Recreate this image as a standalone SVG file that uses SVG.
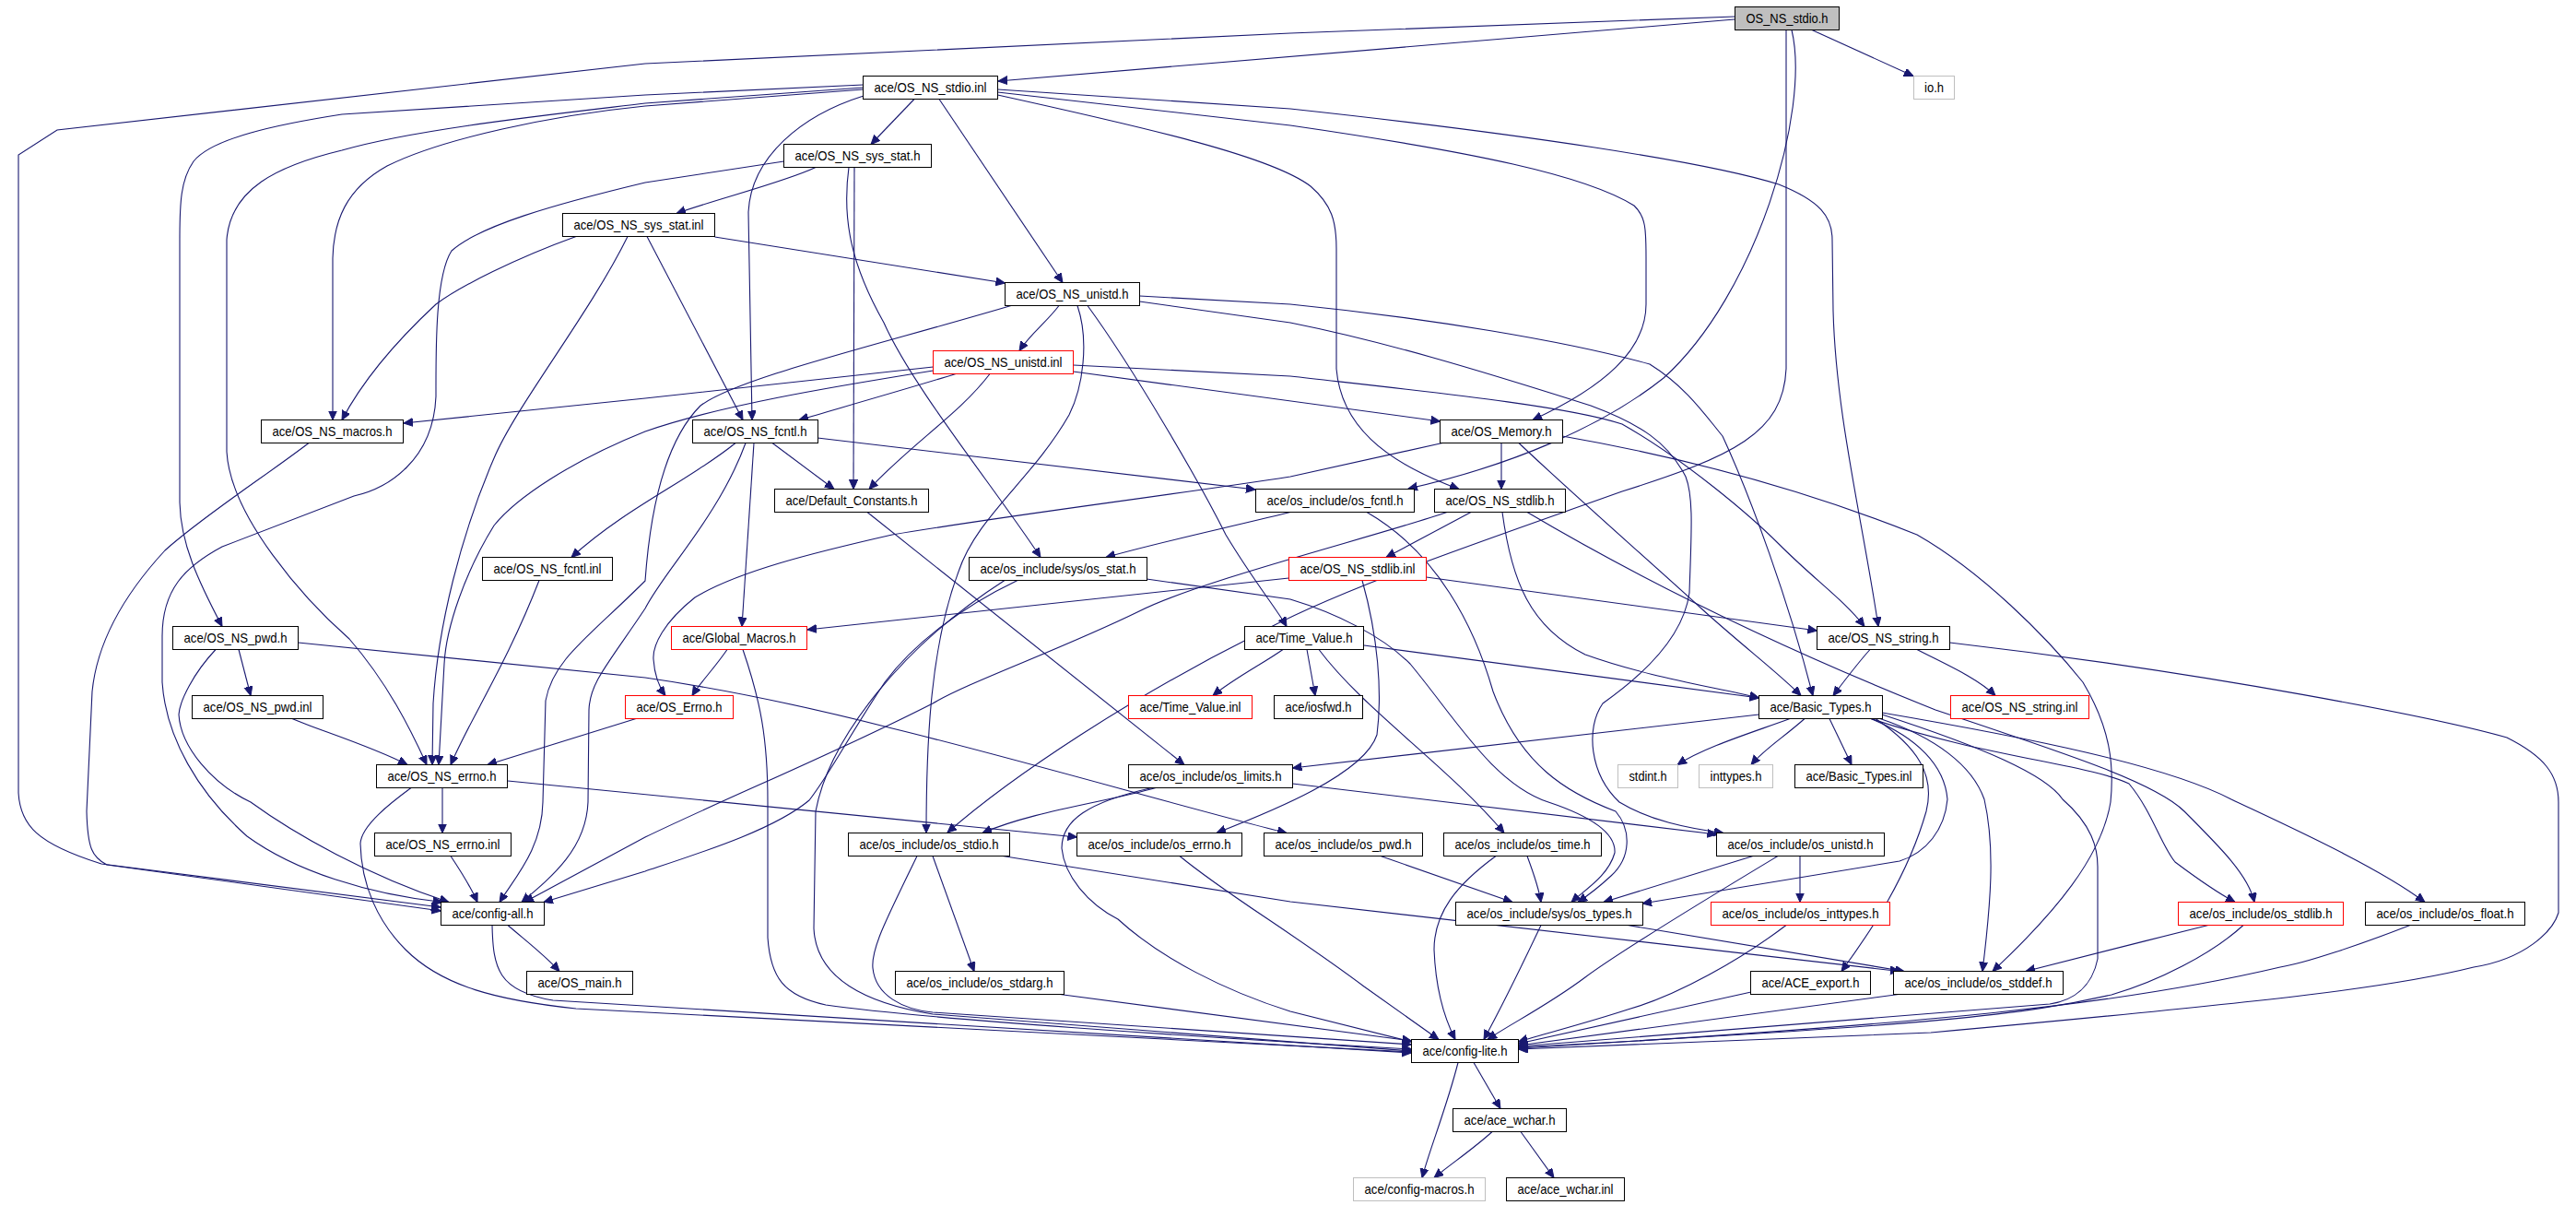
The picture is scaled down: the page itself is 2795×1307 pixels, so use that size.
<svg xmlns="http://www.w3.org/2000/svg" width="2795" height="1307" viewBox="0 0 2795 1307">
<defs>
<marker id="a" markerUnits="userSpaceOnUse" markerWidth="11" markerHeight="10" refX="10" refY="4.5" orient="auto"><path d="M0,0 L10,4.5 L0,9 z" fill="#191970" stroke="#191970" stroke-width="1"/></marker>
</defs>
<style>
.e{fill:none;stroke:#191970;stroke-width:1.1;marker-end:url(#a)}
rect{fill:#fff;stroke:#000;stroke-width:1}
.r rect{stroke:#ff0000}
.g rect{stroke:#bfbfbf}
.root rect{fill:#bfbfbf}
text{font-family:"Liberation Sans",Arial,sans-serif;font-size:14.5px;fill:#000;text-anchor:middle}
</style>
<rect x="0" y="0" width="2795" height="1307" style="fill:#fff;stroke:none"/>
<g id="edges">
<path class="e" d="M1882,21 L1083,88"/>
<path class="e" d="M1966,32.5 L2076,82.5"/>
<path class="e" d="M1882,18 L1400,36 L700,69 L62,141 L20,168 L20,860 C22,895 40,915 110,937 L478,984"/>
<path class="e" d="M1944,32.5 C1965,120 1905,320 1805,410 C1740,462 1640,505 1528,530"/>
<path class="e" d="M1938,32.5 L1938,400 C1935,470 1880,495 1760,533 C1600,590 1450,640 1360,690 C1230,755 1100,840 1028,903"/>
<path class="e" d="M992,107.5 L945,156.5"/>
<path class="e" d="M1019,107.5 L1153,306.5"/>
<path class="e" d="M937,104 C870,125 815,170 812,230 L816,455.5"/>
<path class="e" d="M936.5,97 L700,115 C600,125 480,150 420,180 C375,205 362,240 361,280 L361,455.5"/>
<path class="e" d="M936.5,92 L700,103 L371,124 C300,135 230,150 210,175 C196,195 195,220 195,260 L195,545 C196,590 215,630 241,679.5"/>
<path class="e" d="M936.5,95 L700,112 C600,124 450,140 371,163 C300,180 250,205 246,260 L246,490 C250,560 330,650 379,693 C420,740 445,790 463,829.5"/>
<path class="e" d="M1082.5,100 L1400,136 C1600,165 1720,190 1773,223 C1786,235 1786,250 1786,280 L1786,330 C1786,380 1740,420 1663,455.5"/>
<path class="e" d="M1082.5,103 C1250,140 1380,170 1422,202 C1445,222 1450,240 1450,270 L1450,400 C1455,460 1500,500 1583,530.5"/>
<path class="e" d="M1082.5,97 L1400,118 C1650,145 1850,175 1930,200 C1975,218 1988,235 1988,260 L1989,337 C1992,450 2020,560 2038,679.5"/>
<path class="e" d="M885,181.5 C850,198 780,215 734,231.5"/>
<path class="e" d="M927,181.5 L926,530.5"/>
<path class="e" d="M921,181.5 C913,240 925,290 959,350 C990,420 1080,530 1129,604.5"/>
<path class="e" d="M850.5,175 L700,198 C600,222 520,245 490,272 C472,300 473,380 473,430 C470,500 420,530 384,538 L241,593 C200,615 176,640 176,690 L176,740 C180,800 215,860 268,907 C320,945 400,970 480,978.5"/>
<path class="e" d="M775.5,257 L1090.5,307"/>
<path class="e" d="M625,256.5 C560,280 500,310 473,330 C430,370 395,410 371,455.5"/>
<path class="e" d="M702,256.5 L806,455.5"/>
<path class="e" d="M681,256.5 C640,340 560,440 536,497 C500,580 475,680 470,763 L469,829.5"/>
<path class="e" d="M1149,331.5 C1135,350 1118,362 1106,380.5"/>
<path class="e" d="M1097,331.5 C950,375 800,410 760,440 C720,480 705,560 700,630 C640,690 600,715 592,760 L589,870 C588,920 560,950 542,978.5"/>
<path class="e" d="M1169,331.5 C1182,370 1175,420 1160,450 C1120,520 1060,560 1040,620 C1010,700 1005,800 1005,903.5"/>
<path class="e" d="M1180,331.5 C1230,400 1300,520 1330,580 C1360,630 1385,660 1396,679.5"/>
<path class="e" d="M1236.5,321 L1400,330 C1550,345 1700,370 1790,395 C1830,420 1850,450 1869,473 C1900,540 1940,650 1967,754.5"/>
<path class="e" d="M1236.5,327 L1400,350 C1500,370 1600,400 1726,440 C1780,460 1810,480 1829,517 C1838,540 1835,580 1833,643 C1828,680 1800,720 1739,763 C1720,790 1725,840 1757,870 C1790,890 1830,898 1870,903.5"/>
<path class="e" d="M1012.5,398 L700,432 L438,459"/>
<path class="e" d="M1037,405.5 C990,420 920,440 867,455.5"/>
<path class="e" d="M1074,405.5 C1040,450 990,480 943,530.5"/>
<path class="e" d="M1164.5,403 L1562.5,457"/>
<path class="e" d="M1012.5,402 C900,420 780,440 700,468 C620,500 560,540 536,570 C505,620 484,680 482,720 L476,829.5"/>
<path class="e" d="M1164.5,396 L1400,408 C1550,425 1700,440 1760,460 C1830,500 1900,560 1930,590 C1970,630 2000,650 2023,679.5"/>
<path class="e" d="M335,480.5 C290,515 220,560 179,597 C130,650 105,700 100,750 L94,880 C95,920 100,930 116,938 L478.5,988"/>
<path class="e" d="M838,480.5 L905,530.5"/>
<path class="e" d="M887,475 L1362,531"/>
<path class="e" d="M818,480.5 L805,679.5"/>
<path class="e" d="M798,480.5 C750,520 680,550 620,604.5"/>
<path class="e" d="M809,480.5 C780,560 720,620 700,660 C660,720 640,740 639,770 L638,870 C636,920 600,950 566,978.5"/>
<path class="e" d="M1629,480.5 L1629,530.5"/>
<path class="e" d="M1565,480.5 L1400,517 C1250,540 1100,558 968,580 C880,600 800,620 754,648 C720,675 708,700 709,715 C710,730 715,745 722,754.5"/>
<path class="e" d="M1648,480.5 C1700,530 1780,600 1846,660 C1890,700 1930,730 1954,754.5"/>
<path class="e" d="M1695,473 C1850,500 1980,540 2080,580 C2150,620 2220,690 2260,740 C2290,790 2294,830 2290,870 C2280,930 2230,990 2162,1053.5"/>
<path class="e" d="M941,555.5 L1285,829.5"/>
<path class="e" d="M1400,555.5 C1320,575 1250,590 1200,604.5"/>
<path class="e" d="M1483,555.5 C1560,600 1600,680 1620,750 C1650,830 1700,860 1753,880 C1770,900 1770,930 1748,950 C1735,962 1725,970 1712,978.5"/>
<path class="e" d="M1596,555.5 L1504,604.5"/>
<path class="e" d="M1630,555.5 C1640,630 1660,680 1720,710 C1790,735 1860,745 1908.5,757"/>
<path class="e" d="M1657,555.5 C1800,640 1950,710 2100,770 C2250,820 2340,850 2370,880 C2410,920 2440,950 2446,978.5"/>
<path class="e" d="M1570,555.5 C1500,580 1300,630 1236,663 C1150,705 1050,740 1012,763 C900,820 800,860 700,908 L569,978.5"/>
<path class="e" d="M585,629.5 C550,720 510,780 489,829.5"/>
<path class="e" d="M1244,628 L1400,650 C1450,665 1500,690 1530,720 C1580,780 1620,850 1680,870 C1740,890 1753,910 1752,925 C1745,950 1720,965 1705,978.5"/>
<path class="e" d="M1104,629.5 C1040,660 990,700 960,740 C920,800 900,840 878,868 C840,900 760,925 700,945 L590,978.5"/>
<path class="e" d="M1090,629.5 C980,700 900,800 885,880 L883,1007 C885,1050 920,1085 1012,1100 L1531.5,1140"/>
<path class="e" d="M1398.5,627 L876,683"/>
<path class="e" d="M1547.5,626 L1971.5,684"/>
<path class="e" d="M1478,629.5 C1495,690 1500,750 1494,797 C1480,840 1380,880 1320,903.5"/>
<path class="e" d="M259,704.5 L272,754.5"/>
<path class="e" d="M234,704.5 C210,730 195,760 194,775 C196,810 230,850 272,870 C320,905 400,950 487,978.5"/>
<path class="e" d="M323.5,697 L700,735 C790,748 870,765 968,790 C1100,822 1300,880 1396,903.5"/>
<path class="e" d="M789,704.5 C775,725 760,740 751,754.5"/>
<path class="e" d="M806,704.5 C825,760 833,800 833,870 L833,1017 C836,1060 850,1080 896,1090 C1000,1105 1300,1125 1531.5,1138"/>
<path class="e" d="M1392,704.5 C1370,720 1340,735 1316,754.5"/>
<path class="e" d="M1418,704.5 L1427,754.5"/>
<path class="e" d="M1480,700 L1908.5,757"/>
<path class="e" d="M1431,704.5 C1480,770 1570,830 1632,903.5"/>
<path class="e" d="M2029,704.5 C2015,720 2000,740 1989,754.5"/>
<path class="e" d="M2080,704.5 C2110,720 2145,735 2165,754.5"/>
<path class="e" d="M2115.5,697 C2400,730 2650,780 2720,800 C2760,820 2776,840 2776,870 L2776,990 C2770,1010 2740,1040 2684,1049 C2600,1070 2480,1085 2095,1120 L1647.5,1138"/>
<path class="e" d="M317,779.5 C340,790 400,808 442,829.5"/>
<path class="e" d="M690,779.5 L529,829.5"/>
<path class="e" d="M1908.5,775 L1402.5,833"/>
<path class="e" d="M1942,779.5 C1900,795 1850,810 1820,829.5"/>
<path class="e" d="M1958,779.5 C1935,800 1915,812 1900,829.5"/>
<path class="e" d="M1985,779.5 L2009,829.5"/>
<path class="e" d="M2030,779.5 C2150,820 2270,830 2310,850 C2335,880 2345,917 2360,935 C2380,950 2400,965 2425,978.5"/>
<path class="e" d="M2042,773 C2200,800 2350,830 2421,867 C2480,895 2580,940 2631,978.5"/>
<path class="e" d="M2040,779.5 C2100,800 2140,830 2153,867 C2165,920 2160,980 2151,1053.5"/>
<path class="e" d="M2042,775 C2150,810 2220,840 2238,867 C2270,895 2276,920 2276,940 L2276,1040 C2270,1070 2250,1085 2224,1089 L1647.5,1135"/>
<path class="e" d="M2035,779.5 C2080,810 2100,840 2090,880 C2070,950 2030,1010 1998,1053.5"/>
<path class="e" d="M2030,779.5 C2080,800 2110,830 2113,867 C2110,900 2090,925 2061,934 L1782,980"/>
<path class="e" d="M480,854.5 L480,903.5"/>
<path class="e" d="M446,854.5 C425,870 392,895 391,915 C392,960 410,1000 440,1030 C480,1070 540,1085 625,1094 L1531.5,1141"/>
<path class="e" d="M551,847 L1168.5,908"/>
<path class="e" d="M1254,854.5 C1200,870 1120,880 1066,903.5"/>
<path class="e" d="M1250,854.5 C1180,870 1152,890 1152,920 C1155,950 1180,980 1213,997 C1260,1040 1330,1075 1400,1097 L1531.5,1130"/>
<path class="e" d="M1402.5,850 L1862.5,905"/>
<path class="e" d="M489,928.5 C500,945 510,960 518,978.5"/>
<path class="e" d="M1012,928.5 L1057,1053.5"/>
<path class="e" d="M995,928.5 C960,1000 945,1030 947,1050 C950,1080 980,1095 1012,1098 L1531.5,1133"/>
<path class="e" d="M1088,928.5 L1400,978 L2061,1053.5"/>
<path class="e" d="M1280,928.5 C1330,970 1400,1010 1480,1070 L1561,1127.5"/>
<path class="e" d="M1498,928.5 L1641,978.5"/>
<path class="e" d="M1657,928.5 C1665,950 1670,965 1672,978.5"/>
<path class="e" d="M1623,928.5 C1580,960 1556,990 1556,1030 C1558,1080 1570,1110 1579,1127.5"/>
<path class="e" d="M1902,928.5 L1740,978.5"/>
<path class="e" d="M1953,928.5 L1953,978.5"/>
<path class="e" d="M1929,928.5 C1860,970 1760,1030 1720,1060 C1680,1090 1640,1110 1614,1127.5"/>
<path class="e" d="M551,1003.5 C570,1020 590,1035 607,1053.5"/>
<path class="e" d="M534,1003.5 C535,1050 540,1075 600,1085 L1531.5,1142"/>
<path class="e" d="M1672,1003.5 C1650,1050 1625,1100 1610,1127.5"/>
<path class="e" d="M1766,1003.5 L2066,1053.5"/>
<path class="e" d="M1938,1003.5 C1890,1040 1820,1080 1766,1095 C1720,1110 1680,1120 1647.5,1130"/>
<path class="e" d="M2396,1003.5 C2330,1020 2250,1040 2198,1053.5"/>
<path class="e" d="M2434,1003.5 C2400,1035 2340,1065 2291,1079 C2200,1100 2100,1112 1647.5,1136"/>
<path class="e" d="M2615,1003.5 C2560,1025 2500,1045 2474,1049 C2300,1090 2100,1110 1647.5,1137"/>
<path class="e" d="M1150,1078.5 L1531.5,1129"/>
<path class="e" d="M1900,1076 L1647.5,1132"/>
<path class="e" d="M2060,1078.5 L1647.5,1134"/>
<path class="e" d="M1582,1152.5 C1570,1200 1550,1250 1543,1277.5"/>
<path class="e" d="M1599,1152.5 L1628,1202.5"/>
<path class="e" d="M1619,1227.5 C1600,1245 1575,1262 1556,1277.5"/>
<path class="e" d="M1650,1227.5 L1686,1277.5"/>
</g>
<g id="n0" class="root"><rect x="1882.5" y="7.5" width="113" height="25"/><text x="1939" y="25" textLength="89" lengthAdjust="spacingAndGlyphs">OS_NS_stdio.h</text></g>
<g id="n1"><rect x="936.5" y="82.5" width="146" height="25"/><text x="1009.5" y="100" textLength="122" lengthAdjust="spacingAndGlyphs">ace/OS_NS_stdio.inl</text></g>
<g id="n2" class="g"><rect x="2076.5" y="82.5" width="44" height="25"/><text x="2098.5" y="100" textLength="21" lengthAdjust="spacingAndGlyphs">io.h</text></g>
<g id="n3"><rect x="850.5" y="156.5" width="160" height="25"/><text x="930.5" y="174" textLength="136" lengthAdjust="spacingAndGlyphs">ace/OS_NS_sys_stat.h</text></g>
<g id="n4"><rect x="610.5" y="231.5" width="165" height="25"/><text x="693" y="249" textLength="141" lengthAdjust="spacingAndGlyphs">ace/OS_NS_sys_stat.inl</text></g>
<g id="n5"><rect x="1090.5" y="306.5" width="146" height="25"/><text x="1163.5" y="324" textLength="122" lengthAdjust="spacingAndGlyphs">ace/OS_NS_unistd.h</text></g>
<g id="n6" class="r"><rect x="1012.5" y="380.5" width="152" height="25"/><text x="1088.5" y="398" textLength="128" lengthAdjust="spacingAndGlyphs">ace/OS_NS_unistd.inl</text></g>
<g id="n7"><rect x="283.5" y="455.5" width="154" height="25"/><text x="360.5" y="473" textLength="130" lengthAdjust="spacingAndGlyphs">ace/OS_NS_macros.h</text></g>
<g id="n8"><rect x="751.5" y="455.5" width="136" height="25"/><text x="819.5" y="473" textLength="112" lengthAdjust="spacingAndGlyphs">ace/OS_NS_fcntl.h</text></g>
<g id="n9"><rect x="1562.5" y="455.5" width="133" height="25"/><text x="1629" y="473" textLength="109" lengthAdjust="spacingAndGlyphs">ace/OS_Memory.h</text></g>
<g id="n10"><rect x="840.5" y="530.5" width="167" height="25"/><text x="924" y="548" textLength="143" lengthAdjust="spacingAndGlyphs">ace/Default_Constants.h</text></g>
<g id="n11"><rect x="1362.5" y="530.5" width="172" height="25"/><text x="1448.5" y="548" textLength="148" lengthAdjust="spacingAndGlyphs">ace/os_include/os_fcntl.h</text></g>
<g id="n12"><rect x="1556.5" y="530.5" width="142" height="25"/><text x="1627.5" y="548" textLength="118" lengthAdjust="spacingAndGlyphs">ace/OS_NS_stdlib.h</text></g>
<g id="n13"><rect x="523.5" y="604.5" width="141" height="25"/><text x="594" y="622" textLength="117" lengthAdjust="spacingAndGlyphs">ace/OS_NS_fcntl.inl</text></g>
<g id="n14"><rect x="1051.5" y="604.5" width="193" height="25"/><text x="1148" y="622" textLength="169" lengthAdjust="spacingAndGlyphs">ace/os_include/sys/os_stat.h</text></g>
<g id="n15" class="r"><rect x="1398.5" y="604.5" width="149" height="25"/><text x="1473" y="622" textLength="125" lengthAdjust="spacingAndGlyphs">ace/OS_NS_stdlib.inl</text></g>
<g id="n16"><rect x="187.5" y="679.5" width="136" height="25"/><text x="255.5" y="697" textLength="112" lengthAdjust="spacingAndGlyphs">ace/OS_NS_pwd.h</text></g>
<g id="n17" class="r"><rect x="728.5" y="679.5" width="147" height="25"/><text x="802" y="697" textLength="123" lengthAdjust="spacingAndGlyphs">ace/Global_Macros.h</text></g>
<g id="n18"><rect x="1350.5" y="679.5" width="129" height="25"/><text x="1415" y="697" textLength="105" lengthAdjust="spacingAndGlyphs">ace/Time_Value.h</text></g>
<g id="n19"><rect x="1971.5" y="679.5" width="144" height="25"/><text x="2043.5" y="697" textLength="120" lengthAdjust="spacingAndGlyphs">ace/OS_NS_string.h</text></g>
<g id="n20"><rect x="208.5" y="754.5" width="142" height="25"/><text x="279.5" y="772" textLength="118" lengthAdjust="spacingAndGlyphs">ace/OS_NS_pwd.inl</text></g>
<g id="n21" class="r"><rect x="678.5" y="754.5" width="117" height="25"/><text x="737" y="772" textLength="93" lengthAdjust="spacingAndGlyphs">ace/OS_Errno.h</text></g>
<g id="n22" class="r"><rect x="1224.5" y="754.5" width="134" height="25"/><text x="1291.5" y="772" textLength="110" lengthAdjust="spacingAndGlyphs">ace/Time_Value.inl</text></g>
<g id="n23"><rect x="1382.5" y="754.5" width="96" height="25"/><text x="1430.5" y="772" textLength="72" lengthAdjust="spacingAndGlyphs">ace/iosfwd.h</text></g>
<g id="n24"><rect x="1908.5" y="754.5" width="134" height="25"/><text x="1975.5" y="772" textLength="110" lengthAdjust="spacingAndGlyphs">ace/Basic_Types.h</text></g>
<g id="n25" class="r"><rect x="2116.5" y="754.5" width="150" height="25"/><text x="2191.5" y="772" textLength="126" lengthAdjust="spacingAndGlyphs">ace/OS_NS_string.inl</text></g>
<g id="n26"><rect x="408.5" y="829.5" width="142" height="25"/><text x="479.5" y="847" textLength="118" lengthAdjust="spacingAndGlyphs">ace/OS_NS_errno.h</text></g>
<g id="n27"><rect x="1224.5" y="829.5" width="178" height="25"/><text x="1313.5" y="847" textLength="154" lengthAdjust="spacingAndGlyphs">ace/os_include/os_limits.h</text></g>
<g id="n28" class="g"><rect x="1755.5" y="829.5" width="65" height="25"/><text x="1788" y="847" textLength="41" lengthAdjust="spacingAndGlyphs">stdint.h</text></g>
<g id="n29" class="g"><rect x="1843.5" y="829.5" width="80" height="25"/><text x="1883.5" y="847" textLength="56" lengthAdjust="spacingAndGlyphs">inttypes.h</text></g>
<g id="n30"><rect x="1947.5" y="829.5" width="139" height="25"/><text x="2017" y="847" textLength="115" lengthAdjust="spacingAndGlyphs">ace/Basic_Types.inl</text></g>
<g id="n31"><rect x="406.5" y="903.5" width="148" height="25"/><text x="480.5" y="921" textLength="124" lengthAdjust="spacingAndGlyphs">ace/OS_NS_errno.inl</text></g>
<g id="n32"><rect x="920.5" y="903.5" width="175" height="25"/><text x="1008" y="921" textLength="151" lengthAdjust="spacingAndGlyphs">ace/os_include/os_stdio.h</text></g>
<g id="n33"><rect x="1168.5" y="903.5" width="179" height="25"/><text x="1258" y="921" textLength="155" lengthAdjust="spacingAndGlyphs">ace/os_include/os_errno.h</text></g>
<g id="n34"><rect x="1371.5" y="903.5" width="172" height="25"/><text x="1457.5" y="921" textLength="148" lengthAdjust="spacingAndGlyphs">ace/os_include/os_pwd.h</text></g>
<g id="n35"><rect x="1566.5" y="903.5" width="171" height="25"/><text x="1652" y="921" textLength="147" lengthAdjust="spacingAndGlyphs">ace/os_include/os_time.h</text></g>
<g id="n36"><rect x="1862.5" y="903.5" width="182" height="25"/><text x="1953.5" y="921" textLength="158" lengthAdjust="spacingAndGlyphs">ace/os_include/os_unistd.h</text></g>
<g id="n37"><rect x="478.5" y="978.5" width="112" height="25"/><text x="534.5" y="996" textLength="88" lengthAdjust="spacingAndGlyphs">ace/config-all.h</text></g>
<g id="n38"><rect x="1579.5" y="978.5" width="203" height="25"/><text x="1681" y="996" textLength="179" lengthAdjust="spacingAndGlyphs">ace/os_include/sys/os_types.h</text></g>
<g id="n39" class="r"><rect x="1856.5" y="978.5" width="194" height="25"/><text x="1953.5" y="996" textLength="170" lengthAdjust="spacingAndGlyphs">ace/os_include/os_inttypes.h</text></g>
<g id="n40" class="r"><rect x="2363.5" y="978.5" width="179" height="25"/><text x="2453" y="996" textLength="155" lengthAdjust="spacingAndGlyphs">ace/os_include/os_stdlib.h</text></g>
<g id="n41"><rect x="2566.5" y="978.5" width="173" height="25"/><text x="2653" y="996" textLength="149" lengthAdjust="spacingAndGlyphs">ace/os_include/os_float.h</text></g>
<g id="n42"><rect x="571.5" y="1053.5" width="115" height="25"/><text x="629" y="1071" textLength="91" lengthAdjust="spacingAndGlyphs">ace/OS_main.h</text></g>
<g id="n43"><rect x="971.5" y="1053.5" width="183" height="25"/><text x="1063" y="1071" textLength="159" lengthAdjust="spacingAndGlyphs">ace/os_include/os_stdarg.h</text></g>
<g id="n44"><rect x="1899.5" y="1053.5" width="130" height="25"/><text x="1964.5" y="1071" textLength="106" lengthAdjust="spacingAndGlyphs">ace/ACE_export.h</text></g>
<g id="n45"><rect x="2054.5" y="1053.5" width="184" height="25"/><text x="2146.5" y="1071" textLength="160" lengthAdjust="spacingAndGlyphs">ace/os_include/os_stddef.h</text></g>
<g id="n46"><rect x="1531.5" y="1127.5" width="116" height="25"/><text x="1589.5" y="1145" textLength="92" lengthAdjust="spacingAndGlyphs">ace/config-lite.h</text></g>
<g id="n47"><rect x="1576.5" y="1202.5" width="123" height="25"/><text x="1638" y="1220" textLength="99" lengthAdjust="spacingAndGlyphs">ace/ace_wchar.h</text></g>
<g id="n48" class="g"><rect x="1468.5" y="1277.5" width="143" height="25"/><text x="1540" y="1295" textLength="119" lengthAdjust="spacingAndGlyphs">ace/config-macros.h</text></g>
<g id="n49"><rect x="1634.5" y="1277.5" width="128" height="25"/><text x="1698.5" y="1295" textLength="104" lengthAdjust="spacingAndGlyphs">ace/ace_wchar.inl</text></g>
</svg>
